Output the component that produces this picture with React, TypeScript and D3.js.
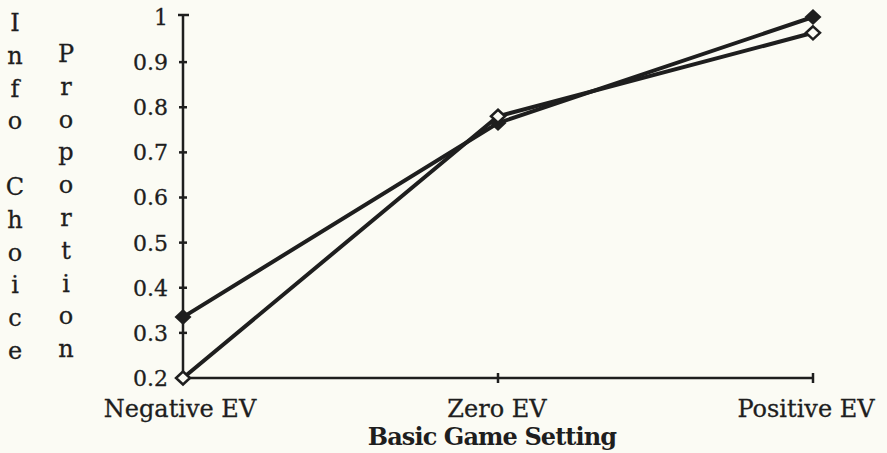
import React from "react";
import * as d3 from "d3";

const categories = ["Negative EV", "Zero EV", "Positive EV"];
const filledSeries = [0.335, 0.765, 1.0];
const openSeries = [0.2, 0.78, 0.965];
const yTicks = [0.2, 0.3, 0.4, 0.5, 0.6, 0.7, 0.8, 0.9, 1];
const yLabelLeft = "Info Choice";
const yLabelRight = "Proportion";
const xTitle = "Basic Game Setting";

const W = 887;
const H = 453;
const BG = "#fbfbf4";
const INK = "#1e1e1e";

export default function App() {
  const x = d3.scalePoint<string>().domain(categories).range([183, 813]);
  const y = d3.scaleLinear().domain([0.2, 1]).range([378, 17]);
  const line = d3
    .line<number>()
    .x((_, i) => x(categories[i]) as number)
    .y((d) => y(d));

  const diamond = (cx: number, cy: number, hw: number, hh: number) =>
    `M${cx},${cy - hh}L${cx + hw},${cy}L${cx},${cy + hh}L${cx - hw},${cy}Z`;

  const serif = "'DejaVu Serif', serif";
  const textStyle = { stroke: INK, strokeWidth: 0.3 } as React.CSSProperties;

  return (
    <svg
      width={W}
      height={H}
      style={{ position: "absolute", left: 0, top: 0, background: BG }}
    >
      <rect x={0} y={0} width={W} height={H} fill={BG} />
      {/* y axis */}
      <line x1={183} x2={183} y1={y(1) - 2} y2={y(0.2)} stroke={INK} strokeWidth={2.5} />
      <line x1={178} x2={189} y1={y(1) - 2} y2={y(1) - 2} stroke={INK} strokeWidth={2.5} />
      {yTicks.slice(1, -1).map((t) => (
        <line key={t} x1={179} x2={187} y1={y(t)} y2={y(t)} stroke={INK} strokeWidth={2.5} />
      ))}
      {yTicks.map((t) => (
        <text
          key={"l" + t}
          x={168}
          y={y(t)}
          dy="0.36em"
          textAnchor="end"
          fontFamily={serif}
          fontSize={22}
          fill={INK}
          style={textStyle}
        >
          {t === 1 ? "1" : t.toFixed(1)}
        </text>
      ))}
      {/* x axis */}
      <line x1={183} x2={813} y1={378} y2={378} stroke={INK} strokeWidth={2.5} />
      {categories.slice(1).map((c) => (
        <line key={c} x1={x(c)} x2={x(c)} y1={373} y2={383} stroke={INK} strokeWidth={2.5} />
      ))}
      {categories.map((c, i) => (
        <text
          key={"c" + c}
          x={(x(c) as number) + (i === 0 ? -3 : i === 2 ? -7 : -1)}
          y={417}
          textAnchor="middle"
          fontFamily={serif}
          fontSize={24}
          fill={INK}
          style={textStyle}
        >
          {c}
        </text>
      ))}
      <text
        x={492}
        y={445}
        textAnchor="middle"
        fontFamily={serif}
        fontWeight="bold"
        fontSize={24}
        letterSpacing={-0.9}
        fill={INK}
      >
        {xTitle}
      </text>
      {/* vertical labels */}
      {yLabelLeft.split("").map((ch, i) => (
        <text key={"a" + i} x={15} y={31 + i * 32.8} textAnchor="middle" fontFamily={serif} fontSize={24} fill={INK} style={textStyle}>
          {ch}
        </text>
      ))}
      {yLabelRight.split("").map((ch, i) => (
        <text key={"b" + i} x={66} y={62 + i * 32.8} textAnchor="middle" fontFamily={serif} fontSize={24} fill={INK} style={textStyle}>
          {ch}
        </text>
      ))}
      {/* lines */}
      <path d={line(filledSeries) || ""} fill="none" stroke={INK} strokeWidth={4} />
      <path d={line(openSeries) || ""} fill="none" stroke={INK} strokeWidth={4} />
      {filledSeries.map((v, i) => (
        <path key={"f" + i} d={diamond(x(categories[i]) as number, y(v), 8.5, 8)} fill={INK} />
      ))}
      {openSeries.map((v, i) => (
        <path
          key={"o" + i}
          d={diamond(x(categories[i]) as number, y(v), 7, 6.5)}
          fill={BG}
          stroke={INK}
          strokeWidth={2.5}
        />
      ))}
    </svg>
  );
}
